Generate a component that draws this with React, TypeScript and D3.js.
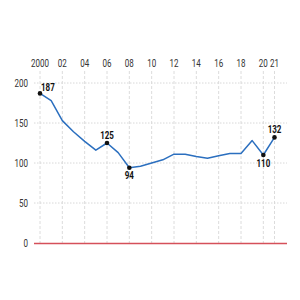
import React, { useEffect, useRef } from "react";
import * as d3 from "d3";

const years = [2000, 2001, 2002, 2003, 2004, 2005, 2006, 2007, 2008, 2009, 2010, 2011, 2012, 2013, 2014, 2015, 2016, 2017, 2018, 2019, 2020, 2021];
const values = [187, 178, 153, 139, 127, 116, 125, 113, 94, 96, 100, 104, 111, 111, 108, 106, 109, 112, 112, 128, 110, 132];
const tickYears = [2000, 2002, 2004, 2006, 2008, 2010, 2012, 2014, 2016, 2018, 2020, 2021];
const yTicks = [0, 50, 100, 150, 200];
// labelled points: year, placement
const labelled = [
  { year: 2000, pos: "right" },
  { year: 2006, pos: "above" },
  { year: 2008, pos: "below" },
  { year: 2020, pos: "below" },
  { year: 2021, pos: "above" },
];

// condensed look: Roboto squeezed horizontally
const squeeze = 0.8;

export default function App() {
  const ref = useRef<SVGSVGElement>(null);

  useEffect(() => {
    const svg = d3.select(ref.current);
    svg.selectAll("*").remove();

    const x = d3.scaleLinear().domain([2000, 2021]).range([40, 274.5]);
    const y = d3.scaleLinear().domain([0, 200]).range([243, 83]);
    const font = "Roboto, sans-serif";

    // vertical dashed grid
    svg
      .append("g")
      .selectAll("line")
      .data(tickYears)
      .join("line")
      .attr("x1", (d) => x(d))
      .attr("x2", (d) => x(d))
      .attr("y1", 71)
      .attr("y2", 243)
      .attr("stroke", "#dcdcdc")
      .attr("stroke-width", 1)
      .attr("stroke-dasharray", "3,2");

    // horizontal dotted grid
    svg
      .append("g")
      .selectAll("line")
      .data(yTicks.filter((d) => d > 0))
      .join("line")
      .attr("x1", 34)
      .attr("x2", 287)
      .attr("y1", (d) => y(d))
      .attr("y2", (d) => y(d))
      .attr("stroke", "#d8d8d8")
      .attr("stroke-width", 1)
      .attr("stroke-dasharray", "1.5,1.5");

    // baseline
    svg
      .append("line")
      .attr("x1", 34)
      .attr("x2", 287)
      .attr("y1", y(0) + 0.5)
      .attr("y2", y(0) + 0.5)
      .attr("stroke", "#d5505a")
      .attr("stroke-width", 1.3);

    // top x labels
    svg
      .append("g")
      .selectAll("text")
      .data(tickYears)
      .join("text")
      .attr("transform", (d) => `translate(${x(d)},67) scale(${squeeze},1)`)
      .attr("text-anchor", "middle")
      .attr("font-family", font)
      .attr("font-size", 10)
      .attr("fill", "#333")
      .text((d) => (d === 2000 ? "2000" : String(d).slice(2)));

    // y labels
    svg
      .append("g")
      .selectAll("text")
      .data(yTicks)
      .join("text")
      .attr("transform", (d) => `translate(28,${y(d) + 3.5}) scale(${squeeze},1)`)
      .attr("text-anchor", "end")
      .attr("font-family", font)
      .attr("font-size", 10)
      .attr("fill", "#333")
      .text((d) => d);

    const line = d3
      .line<number>()
      .x((d, i) => x(years[i]))
      .y((d) => y(d));

    svg
      .append("path")
      .datum(values)
      .attr("d", line)
      .attr("fill", "none")
      .attr("stroke", "#2b6fbf")
      .attr("stroke-width", 1.5)
      .attr("stroke-linejoin", "round");

    const pts = labelled.map((l) => ({ ...l, v: values[years.indexOf(l.year)] }));

    svg
      .append("g")
      .selectAll("circle")
      .data(pts)
      .join("circle")
      .attr("cx", (d) => x(d.year))
      .attr("cy", (d) => y(d.v))
      .attr("r", 2.3)
      .attr("fill", "#111");

    svg
      .append("g")
      .selectAll("text")
      .data(pts)
      .join("text")
      .attr("transform", (d) => {
        const tx = d.pos === "right" ? x(d.year) + 1 : x(d.year);
        const ty = d.pos === "below" ? y(d.v) + 11.5 : d.pos === "right" ? y(d.v) - 2.5 : y(d.v) - 4;
        return `translate(${tx},${ty}) scale(${squeeze},1)`;
      })
      .attr("text-anchor", (d) => (d.pos === "right" ? "start" : "middle"))
      .attr("font-family", font)
      .attr("font-size", 10)
      .attr("font-weight", "bold")
      .attr("fill", "#111")
      .text((d) => d.v);
  }, []);

  return <svg ref={ref} width={300} height={300} style={{ position: "absolute", left: 0, top: 0 }} />;
}
